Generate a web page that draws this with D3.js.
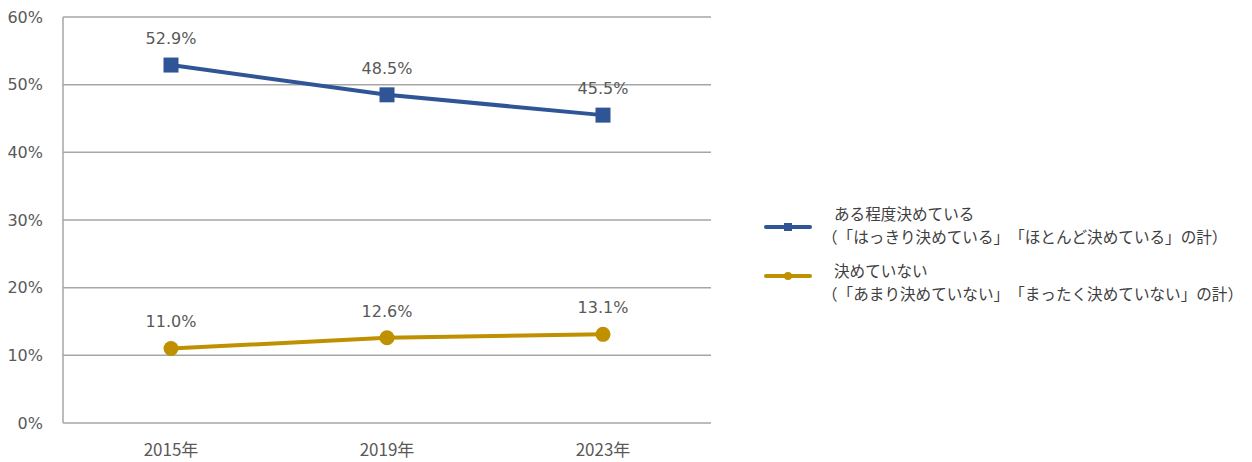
<!DOCTYPE html>
<html><head><meta charset="utf-8">
<script src="https://cdn.jsdelivr.net/npm/d3@7"></script>
<style>body{margin:0;background:#fff}svg{display:block}text{font-family:"Noto Sans CJK JP","Noto Sans",sans-serif;text-spacing-trim:space-all;font-kerning:none}</style>
</head><body><svg id="c" width="1252" height="462"></svg>
<script>
const categories = ["2015年","2019年","2023年"];
const seriesNames = [
  ["ある程度決めている","（「はっきり決めている」「ほとんど決めている」の計）"],
  ["決めていない","（「あまり決めていない」「まったく決めていない」の計）"]
];
const decidedValues = [52.9, 48.5, 45.5];
const undecidedValues = [11.0, 12.6, 13.1];
const yTicks = [0,10,20,30,40,50,60];
const colors = ["#2F5597","#BF9000"];

const svg = d3.select("#c");
const m = {l:63, r:711, t:17, b:423};
const x = d3.scaleBand().domain(categories).range([m.l, m.r]);
const y = d3.scaleLinear().domain([0,60]).range([m.b, m.t]);
const grid = "#A6A6A6", txt = "#595959";
const numFont = "DejaVu Sans, sans-serif";

svg.append("g").selectAll("line").data(yTicks).join("line")
  .attr("x1", m.l).attr("x2", m.r).attr("y1", d=>y(d)).attr("y2", d=>y(d))
  .attr("stroke", grid).attr("stroke-width", 1.5);
svg.append("line").attr("x1", m.l).attr("x2", m.l).attr("y1", m.t).attr("y2", m.b)
  .attr("stroke", grid).attr("stroke-width", 1.5);
svg.append("g").selectAll("text").data(yTicks).join("text")
  .attr("x", 43).attr("y", d=>y(d)).attr("dy","0.36em").attr("text-anchor","end")
  .attr("fill", txt).style("font-size","16px").style("font-family", numFont)
  .text(d=>d+"%");
svg.append("g").selectAll("text").data(categories).join("text")
  .attr("x", d=>x(d)+x.bandwidth()/2).attr("y", 450).attr("dy","0.36em").attr("text-anchor","middle")
  .attr("fill", txt).style("font-size","17px").text(d=>d);

const series = [decidedValues, undecidedValues];
const line = d3.line().x((d,i)=>x(categories[i])+x.bandwidth()/2).y(d=>y(d));
series.forEach((vals, si) => {
  const g = svg.append("g");
  g.append("path").attr("d", line(vals)).attr("fill","none")
    .attr("stroke", colors[si]).attr("stroke-width", 4);
  const cx = (d,i)=>x(categories[i])+x.bandwidth()/2;
  if (si === 0) {
    g.selectAll("rect").data(vals).join("rect")
      .attr("x",(d,i)=>cx(d,i)-7.5).attr("y",d=>y(d)-7.5).attr("width",15).attr("height",15)
      .attr("fill", colors[si]);
  } else {
    g.selectAll("circle").data(vals).join("circle")
      .attr("cx",(d,i)=>cx(d,i)).attr("cy",d=>y(d)).attr("r",7.5).attr("fill", colors[si]);
  }
  g.selectAll("text").data(vals).join("text")
    .attr("x",(d,i)=>cx(d,i)).attr("y",d=>y(d)-27).attr("dy","0.36em").attr("text-anchor","middle")
    .attr("fill", txt).style("font-size","16px").style("font-family", numFont)
    .text(d=>d.toFixed(1)+"%");
});

const leg = [{y:227, ty:214}, {y:276, ty:271}];
leg.forEach((L, si) => {
  const g = svg.append("g");
  g.append("line").attr("x1",766).attr("x2",810).attr("y1",L.y).attr("y2",L.y)
    .attr("stroke",colors[si]).attr("stroke-width",4).attr("stroke-linecap","round");
  if (si===0) g.append("rect").attr("x",784).attr("y",L.y-4).attr("width",8).attr("height",8).attr("fill",colors[si]);
  else g.append("circle").attr("cx",788).attr("cy",L.y).attr("r",4).attr("fill",colors[si]);
  seriesNames[si].forEach((t, k) => {
    g.append("text").attr("x", k===0?834:822).attr("y", L.ty + k*23).attr("dy","0.36em")
      .attr("fill","#404040").style("font-size", k===0?"15.6px":"15.6px").text(t);
  });
});
</script></body></html>
